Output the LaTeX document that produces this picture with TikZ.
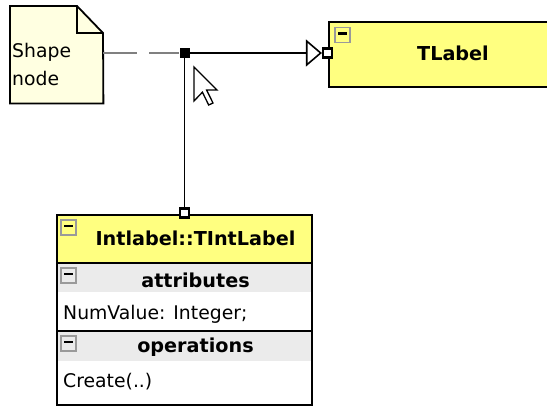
\documentclass[tikz,border=0pt]{standalone}
\usepackage{fontspec}
\setmainfont{DejaVu Sans}
\usetikzlibrary{arrows.meta}
\definecolor{notefill}{HTML}{FFFFE1}
\definecolor{classfill}{HTML}{FFFF80}
\definecolor{bandfill}{HTML}{EBEBEB}
\definecolor{iconedge}{HTML}{9A9A9A}

\begin{document}
\begin{tikzpicture}[x=1pt,y=-1pt,
    font=\fontsize{18.8}{22}\selectfont,
    port/.style={draw=black,line width=2.2pt,fill=white,minimum size=9pt,inner sep=0pt},
    collapse/.style={draw=iconedge,line width=1.6pt,minimum width=15pt,minimum height=15pt,inner sep=0pt},
    title/.style={font=\fontsize{19.2}{22}\selectfont\bfseries,inner sep=0pt},
    member/.style={anchor=west,inner sep=0pt}]
    \clip (0,0) rectangle (547,407);

    \node (note) [minimum width=93pt, minimum height=97pt, anchor=north west, inner sep=0pt] at (10,6) {};
    \node (junc) [fill=black, minimum size=10pt, inner sep=0pt] at (184.5,53) {};
    \node (tport) [port] at (327.5,53) {};
    \node (cport) [port] at (184.5,213) {};

    % note
    \filldraw[fill=notefill, line width=1.8pt] (note.north west) -- (77,6) -- (103,33)
        -- (note.south east) -- (note.south west) -- cycle;
    \draw[line width=1.8pt] (77,6) -- (77,33) -- (103,33);
    \node (shapetxt) [member, anchor=base west] at (12,57) {Shape};
    \node (nodetxt) [member, anchor=base west] at (12,85) {node};

    % TLabel
    \filldraw[fill=classfill, line width=1.8pt] (329,22) rectangle (560,87);
    \node (tlabel) [title] at (453,53) {TLabel};

    % Intlabel::TIntLabel
    \fill[classfill] (57,215) rectangle (312,263);
    \fill[bandfill] (57,263) rectangle (312,292);
    \fill[bandfill] (57,331) rectangle (312,361);
    \draw[line width=1.8pt] (57,215) rectangle (312,405);
    \draw[line width=1.8pt] (57,263) -- (312,263);
    \draw[line width=1.8pt] (57,331) -- (312,331);
    \node (cname) [title] at (195.5,238) {Intlabel::TIntLabel};
    \node (attr) [title] at (195.5,280) {attributes};
    \node (numval) [member] at (63,314) {NumValue: Integer;};
    \node (oper) [title] at (195.5,347) {operations};
    \node (create) [member] at (63,382) {Create(..)};

    \foreach \n/\p in {ti/{(342.5,35)}, ci/{(68.5,227.5)}, ai/{(68.5,275.5)}, oi/{(68.5,343.5)}}{
        \node (\n) [collapse] at \p {};
        \draw[line width=2.2pt] ([xshift=-4.5pt,yshift=1.5pt]\n.center) -- ([xshift=4.5pt,yshift=1.5pt]\n.center);
    }

    % links
    \draw[gray, line width=1.3pt, dash pattern=on 34pt off 12pt] (note.east |- junc) -- (junc.west);
    \draw[line width=1.6pt, -{Triangle[open,length=16pt,width=27pt,line width=1.6pt]}] (junc.east) -- (tport.west);
    \draw[line width=1.6pt] (junc.south) -- (cport.north);
    \node (tport) [port] at (327.5,53) {};
    \node (cport) [port] at (184.5,213) {};
    \node (junc) [fill=black, minimum size=10pt, inner sep=0pt] at (184.5,53) {};

    % mouse pointer
    \filldraw[fill=white, line width=1.3pt, line join=miter]
        (194,67) -- (194,101) -- (202.4,92.2) -- (208.7,105) -- (213,103)
        -- (206.6,90) -- (217,90) -- cycle;
\end{tikzpicture}
\end{document}
